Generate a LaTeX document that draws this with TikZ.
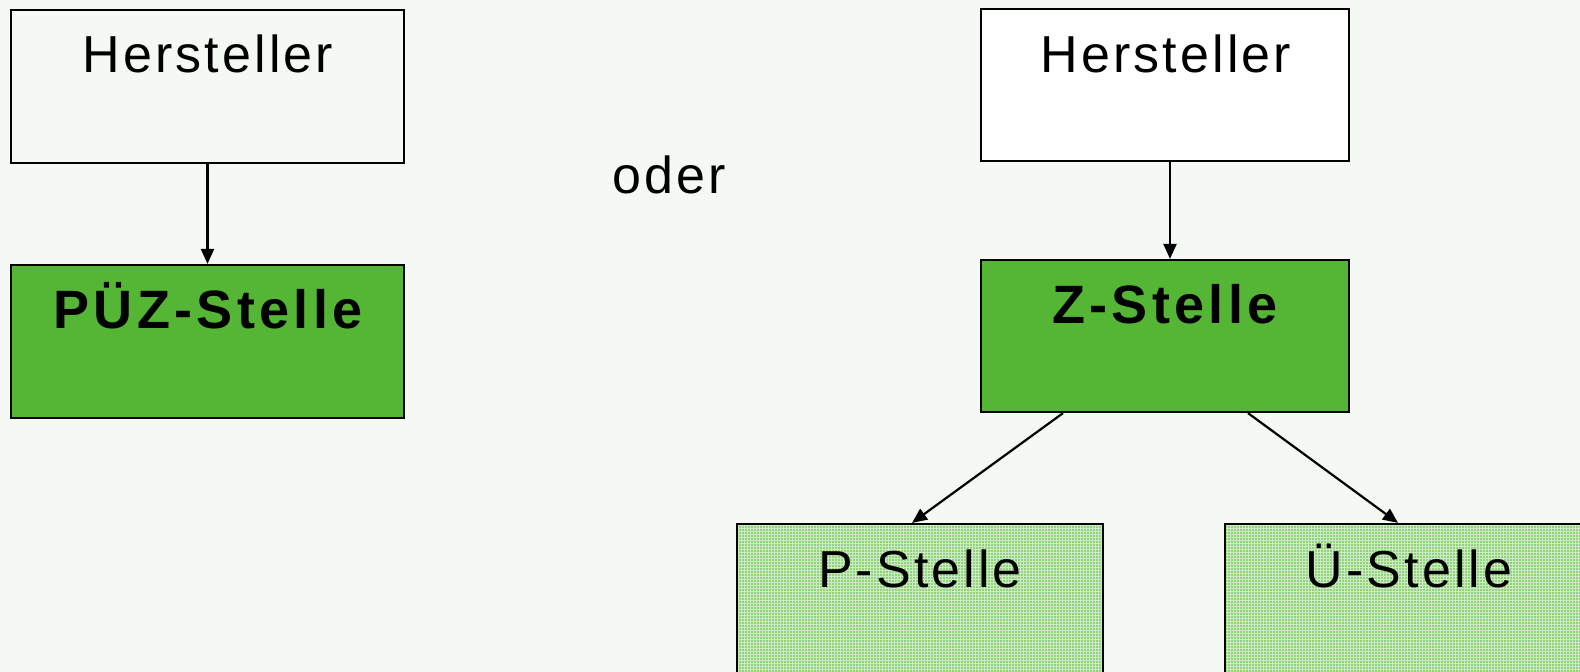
\documentclass[tikz,border=0pt]{standalone}
\usepackage{fontspec}
\setmainfont{Liberation Sans}
\newfontfamily\boxfont[LetterSpace=6]{Liberation Sans}
\newfontfamily\boxfontbold[LetterSpace=8,BoldFont={Liberation Sans Bold}]{Liberation Sans Bold}
\usetikzlibrary{arrows.meta,patterns}
\definecolor{pagebg}{RGB}{244,250,243}
\definecolor{stellegreen}{RGB}{85,181,52}
\definecolor{hatchbase}{RGB}{145,210,125}
\definecolor{hatchline}{RGB}{205,235,195}
\tikzset{
  unitbox/.style={draw=black, line width=2.2pt, rectangle, inner sep=0pt,
    minimum width=393pt, minimum height=153pt},
  mainbox/.style={unitbox, minimum width=368pt, minimum height=152pt},
  subbox/.style={unitbox, minimum width=366pt, minimum height=152pt,
    preaction={fill=hatchbase}, pattern=grid, pattern color=hatchline},
  plainlabel/.style={anchor=base, inner sep=0pt, font=\boxfont\fontsize{52}{60}\selectfont},
  boldlabel/.style={anchor=base, inner sep=0pt, font=\boxfontbold\fontsize{54}{62}\selectfont},
  link/.style={line width=2.2pt, -{Triangle[length=15pt,width=13pt]}}
}
\begin{document}
\begin{tikzpicture}[x=1pt,y=-1pt]
  \fill[pagebg] (0,0) rectangle (1580,672);
  \useasboundingbox (0,0) rectangle (1580,672);
  \clip (0,0) rectangle (1580,672);

  % single-body variant
  \node[unitbox] (lh) at (207.5,86.5) {};
  \node[unitbox, fill=stellegreen] (puz) at (207.5,341.5) {};
  \node[plainlabel] (lhtext) at (208,72) {Hersteller};
  \node[boldlabel] (puztext) at (208,328) {PÜZ-Stelle};
  \draw[link] (lh.south) -- (puz.north);

  \node[plainlabel] (oder) at (669,193) {oder};

  % split variant
  \node[mainbox, fill=white] (rh) at (1165,85) {};
  \node[mainbox, fill=stellegreen] (z) at (1165,336) {};
  \node[plainlabel] (rhtext) at (1166,72) {Hersteller};
  \node[boldlabel] (ztext) at (1165,323) {Z-Stelle};
  \draw[link] ([xshift=5pt]rh.south) -- ([xshift=5pt]z.north);

  \node[subbox] (p) at (920,600) {};
  \node[subbox] (u) at (1408,600) {};
  \node[plainlabel] (ptext) at (920,587) {P-Stelle};
  \node[plainlabel] (utext) at (1409,587) {Ü-Stelle};
  \draw[link] ([xshift=-102pt]z.south) -- ([xshift=-8pt]p.north);
  \draw[link] ([xshift=83pt]z.south) -- ([xshift=-10pt]u.north);
\end{tikzpicture}
\end{document}
